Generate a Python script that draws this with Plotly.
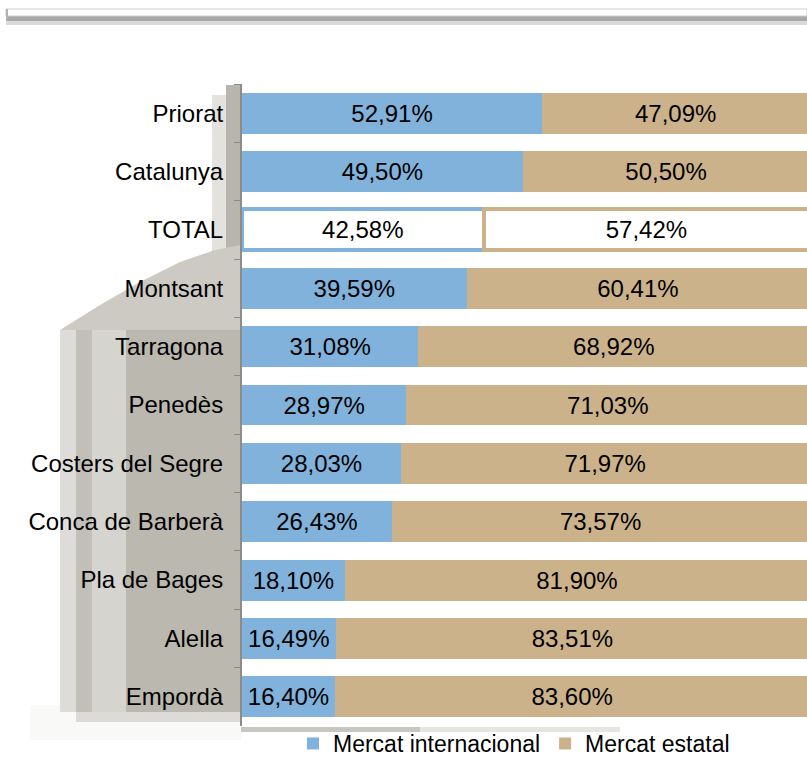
import plotly.graph_objects as go

categories = ["Priorat", "Catalunya", "TOTAL", "Montsant", "Tarragona", "Penedès",
              "Costers del Segre", "Conca de Barberà", "Pla de Bages", "Alella", "Empordà"]
internacional = [52.91, 49.50, 42.58, 39.59, 31.08, 28.97, 28.03, 26.43, 18.10, 16.49, 16.40]
estatal = [47.09, 50.50, 57.42, 60.41, 68.92, 71.03, 71.97, 73.57, 81.90, 83.51, 83.60]

BLUE = "#80B2DC"
BEIGE = "#CCB28A"
FONT = "Arial, Liberation Sans, sans-serif"
FS = 24

W, H = 807, 759
ML, MR, MT, MB = 242, 0, 84, 33
PW, PH = W - ML - MR, H - MT - MB


def fmt(v):
    return f"{v:.2f}".replace(".", ",") + "%"


def pxx(x):
    return (x - ML) / PW


def pxy(y):
    return (H - MB - y) / PH


def bar_style(color):
    fills = ["white" if c == "TOTAL" else color for c in categories]
    lw = [4 if c == "TOTAL" else 0 for c in categories]
    return dict(color=fills, line=dict(color=color, width=lw))


fig = go.Figure()
fig.add_trace(go.Bar(
    y=categories, x=internacional, orientation="h", name="Mercat internacional",
    marker=bar_style(BLUE), text=[fmt(v) for v in internacional],
    textposition="inside", insidetextanchor="middle", constraintext="none",
    textfont=dict(family=FONT, size=FS, color="black"), hoverinfo="skip"))
fig.add_trace(go.Bar(
    y=categories, x=estatal, orientation="h", name="Mercat estatal",
    marker=bar_style(BEIGE), text=[fmt(v) for v in estatal],
    textposition="inside", insidetextanchor="middle", constraintext="none",
    textfont=dict(family=FONT, size=FS, color="black"), hoverinfo="skip"))

shapes = []


def rect(x0, y0, x1, y1, fill, line=None):
    shapes.append(dict(type="rect", xref="paper", yref="paper",
                       x0=pxx(x0), x1=pxx(x1), y0=pxy(y1), y1=pxy(y0),
                       fillcolor=fill, line=dict(width=0) if line is None else line,
                       layer="below"))


def poly(pts, fill):
    d = "M" + " L".join(f"{pxx(x):.5f},{pxy(y):.5f}" for x, y in pts) + " Z"
    shapes.append(dict(type="path", xref="paper", yref="paper", path=d,
                       fillcolor=fill, line=dict(width=0), layer="below"))


# top decorative bar
rect(6, 16, 807, 25, "#dadada")
rect(6, 16, 807, 21, "#a8a8a8")
rect(6, 9, 807, 16, "white", dict(color="#cfcfcf", width=1))
rect(6, 9, 8, 21, "#b0b0b0")

# left "wall"
rect(30, 705, 241, 740, "#f9f9f8")
rect(76, 712, 241, 722, "#dddbd7")
rect(212, 95, 226, 330, "#e4e2de")
rect(226, 85, 241, 330, "#b8b5ad")
poly([(241, 245), (215, 250), (180, 262), (140, 282), (100, 305), (60, 330), (241, 330)], "#cdcac4")
rect(60, 330, 76, 712, "#dedcd8")
rect(76, 330, 92, 712, "#c2bfb8")
rect(92, 330, 126, 712, "#d6d4ce")
rect(126, 330, 241, 712, "#bbb8b0")
# shadow under plot
rect(241, 727, 420, 732, "#c8c6c0")
rect(420, 727, 620, 732, "#e6e5e2")

fig.update_layout(
    width=W, height=H, barmode="stack", bargap=0.3,
    margin=dict(l=ML, r=MR, t=MT, b=MB, autoexpand=False),
    paper_bgcolor="white", plot_bgcolor="rgba(0,0,0,0)",
    font=dict(family=FONT, size=FS, color="black"),
    shapes=shapes,
    showlegend=True,
    legend=dict(orientation="h", x=pxx(293), xanchor="left", y=pxy(722), yanchor="top",
                font=dict(family=FONT, size=23, color="black"),
                bgcolor="rgba(0,0,0,0)", traceorder="normal"),
    xaxis=dict(range=[0, 99.6], showgrid=False, zeroline=False, showticklabels=False,
               showline=False, fixedrange=True),
    yaxis=dict(categoryorder="array", categoryarray=categories, autorange="reversed",
               showgrid=False, zeroline=False, showline=True, linecolor="#8c8c8c",
               linewidth=2, ticks="outside", tickson="boundaries", ticklen=6,
               tickcolor="#8c8c8c", tickwidth=1, ticklabelstandoff=12,
               tickfont=dict(family=FONT, size=FS, color="black"), fixedrange=True),
)

fig.write_html(
    "out.html",
    config={"displayModeBar": False},
    post_script="document.body.style.margin='0';document.body.style.overflow='hidden';",
)
